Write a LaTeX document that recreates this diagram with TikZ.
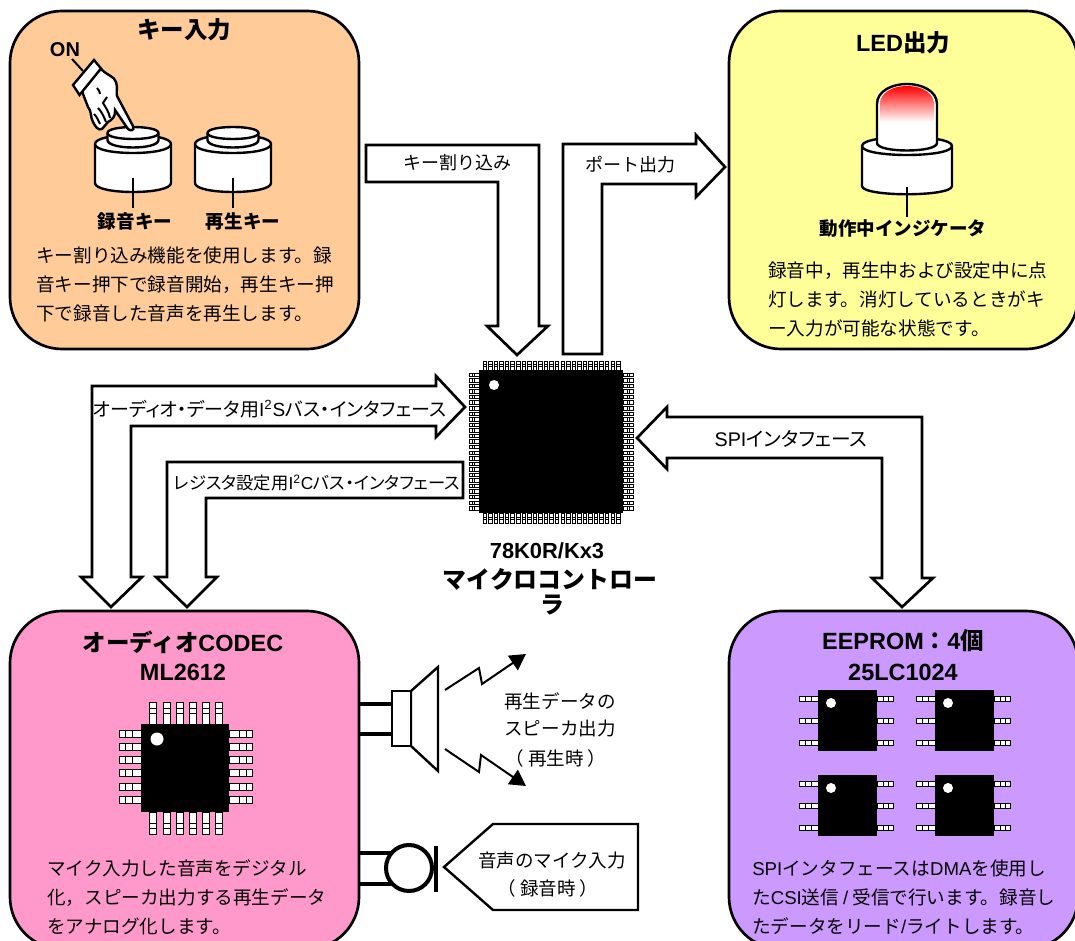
\documentclass[tikz,border=0pt]{standalone}
\usepackage{fontspec}
\setmainfont{Noto Sans CJK JP}
\newfontfamily\propjp{Noto Sans CJK JP}[RawFeature=+palt]
\newfontfamily\lat{Liberation Sans}
\usetikzlibrary{arrows.meta}
\definecolor{keyfill}{HTML}{FFCC99}
\definecolor{ledfill}{HTML}{FFFF99}
\definecolor{codecfill}{HTML}{FF99CC}
\definecolor{romfill}{HTML}{CC99FF}
\newcommand\la[1]{{\lat #1}}
% Sizes are given in output pixels (1 px = 0.75 pt)
\newcommand\pxfont[2]{\fontsize{#1pt}{#2pt}\selectfont}
\tikzset{
  panel/.style={draw=black,line width=2pt,rounded corners=39pt},
  busarrow/.style={draw=black,fill=white,line width=2pt,miter limit=10},
  speaker wire/.style={line width=3.2pt},
  mic wire/.style={line width=2.5pt},
  title text/.style={inner sep=0,font=\pxfont{17.6}{22}\bfseries},
  bold label/.style={inner sep=0,font=\pxfont{13.9}{18}\bfseries},
  body text/.style={inner sep=0,anchor=west,align=left,font=\pxfont{13.95}{21.75}},
  bus text/.style={inner sep=0,font=\pxfont{13.5}{18}},
  sound text/.style={inner sep=0,font=\pxfont{13.9}{18}},
  pin/.style={draw=black,fill=white,line width=0.75pt},
  fine pin/.style={pin/.style={draw=black,fill=white,line width=0.5pt}},
  stub/.style={draw=black,line width=1.5pt},
  part/.style={draw=black,fill=white,line width=1.8pt},
  zigzag/.style={line width=1.5pt,-{Triangle[length=12pt,width=13pt]}}
}
% Horizontal lead: x1, x2, centre y, half height, band x1, band x2
\newcommand\hlead[6]{%
  \draw[pin] (#1,#3-#4) rectangle (#2,#3+#4);
  \draw[pin] (#5,#3-#4) rectangle (#6,#3+#4);}
% Vertical lead: y1, y2, centre x, half width, band y1, band y2
\newcommand\vlead[6]{%
  \draw[pin] (#3-#4,#1) rectangle (#3+#4,#2);
  \draw[pin] (#3-#4,#5) rectangle (#3+#4,#6);}
% Small eight-lead package with its top-left corner at the shift position
\newcommand\soic[2]{%
  \begin{scope}[shift={(#1,#2)}]
    \foreach \yy in {9,31,53}{
      \hlead{-19}{0}{\yy}{2.8}{-13}{-7}
      \hlead{59}{75}{\yy}{2.8}{65}{70}
    }
    \fill[black] (0,0) rectangle (59,61);
    \fill[white] (13,13) circle[radius=5];
  \end{scope}}
% Push button centred on the given x
\newcommand\keycap[1]{%
  \begin{scope}[shift={(#1,0)}]
    \path[part] (-38,144) -- (-38,183) .. controls (-38,195) and (38,195) .. (38,183) -- (38,144) .. controls (38,132) and (-38,132) .. (-38,144) -- cycle;
    \draw[part] (-38,144) .. controls (-38,156) and (38,156) .. (38,144);
    \path[part] (-25.5,133) -- (-25.5,140) .. controls (-25.5,150) and (25.5,150) .. (25.5,140) -- (25.5,133) .. controls (25.5,125) and (-25.5,125) .. (-25.5,133) -- cycle;
    \draw[part] (-25.5,133) .. controls (-25.5,141) and (25.5,141) .. (25.5,133);
    \draw[stub] (0,178) -- (0,208);
  \end{scope}}
\begin{document}
\begin{tikzpicture}[x=0.75pt,y=-0.75pt]
\useasboundingbox (0,0) rectangle (1075,941);
\begin{scope}
\clip (0,0) rectangle (1075,941);

% Panels
\path[panel,fill=keyfill] (10,11) rectangle (359,349);
\path[panel,fill=ledfill] (729,11) rectangle (1078,349);
\path[panel,fill=codecfill] (10,611) rectangle (359,949);
\path[panel,fill=romfill] (729,611) rectangle (1078,949);

% Bus arrows
\draw[busarrow] (366,145) -- (539,145) -- (539,326) -- (548,326) -- (517,355) -- (487,326) -- (498,326) -- (498,182) -- (366,182) -- cycle;
\draw[busarrow] (563,354) -- (563,144) -- (696,144) -- (696,135) -- (725,167) -- (696,197) -- (696,184) -- (602,184) -- (602,354) -- cycle;
\draw[busarrow] (92,577) -- (92,386) -- (436,386) -- (436,376) -- (465,407) -- (436,437) -- (436,426) -- (131,426) -- (131,577) -- (142,577) -- (111,607) -- (81,577) -- cycle;
\draw[busarrow] (167,577) -- (167,462) -- (463,462) -- (463,498) -- (206,498) -- (206,577) -- (217,577) -- (187,607) -- (156,577) -- cycle;
\draw[busarrow] (637,438) -- (667,407) -- (667,417) -- (922,417) -- (922,578) -- (933,578) -- (902,607) -- (872,578) -- (882,578) -- (882,458) -- (667,458) -- (667,469) -- cycle;

% Main controller package
\begin{scope}[fine pin]
\foreach \i in {0,...,24}{
  \pgfmathsetmacro\cc{484.75+5.56*\i}
  \vlead{361}{370}{\cc}{1.75}{364}{366.5}
  \vlead{513}{523}{\cc}{1.75}{517}{519.5}
}
\foreach \i in {0,...,24}{
  \pgfmathsetmacro\cc{374.75+5.56*\i}
  \hlead{469}{479}{\cc}{1.75}{472}{474.5}
  \hlead{623}{633}{\cc}{1.75}{627}{629.5}
}
\end{scope}
\fill[black] (479,370) rectangle (623,513);
\fill[white] (494,385) circle[radius=5];

% Key input panel
\keycap{133}
\keycap{233}
\draw[stub] (72,59) -- (83,71);
\draw[part] (83,94) .. controls (80,88) and (84,82) .. (101,69)
  .. controls (108,76) and (114,76) .. (116,82)
  .. controls (118,88) and (116,92) .. (117,96)
  -- (133,126) .. controls (135,131) and (130,131) .. (128,129)
  -- (115,110) .. controls (116,116) and (112,120) .. (108,122)
  -- (102,129) .. controls (98,131) and (95,126) .. (93,122)
  .. controls (90,116) and (92,112) .. (88,107) -- cycle;
\draw[stub] (97,88) .. controls (99,90) and (100,92) .. (100,94);
\draw[stub] (107,97) -- (103,103) .. controls (106,108) and (109,112) .. (110,118);
\draw[stub] (98,108) .. controls (102,112) and (104,117) .. (106,122);
\draw[stub] (94,114) .. controls (97,117) and (98,120) .. (100,124);
\draw[part] (73,85) -- (94,60) -- (101,68.5) -- (79.5,95) -- cycle;

% Indicator lamp
\path[part] (862,146) -- (862,186) .. controls (862,197) and (952,197) .. (952,186) -- (952,146) .. controls (952,134) and (862,134) .. (862,146) -- cycle;
\draw[part] (862,146) .. controls (862,158) and (952,158) .. (952,146);
\fill[white] (877,143) -- (877,104) .. controls (877,91) and (892,84) .. (907,84) .. controls (922,84) and (937,91) .. (937,104) -- (937,143) .. controls (937,153) and (877,153) .. (877,143) -- cycle;
\begin{scope}
  \clip (880,143) -- (880,104) .. controls (880,93) and (892,86) .. (907,86) .. controls (922,86) and (934,93) .. (934,104) -- (934,143) -- cycle;
  \shade[top color=red,bottom color=white] (875,86) rectangle (939,122);
\end{scope}
\draw[line width=1.8pt] (877,143) -- (877,104) .. controls (877,91) and (892,84) .. (907,84) .. controls (922,84) and (937,91) .. (937,104) -- (937,143) .. controls (937,153) and (877,153) .. (877,143) -- cycle;
\draw[stub] (907,187) -- (907,217);

% Audio codec package
\foreach \cc in {153.3,166.5,179.7,193,206,219.3}{
  \vlead{702}{724}{\cc}{3.5}{708}{713}
  \vlead{812}{834}{\cc}{3.5}{823}{828}
}
\foreach \cc in {734,747.2,760.3,773.4,786.6,799.7}{
  \hlead{119}{141}{\cc}{3.5}{125}{132}
  \hlead{229}{252}{\cc}{3.5}{239}{246}
}
\fill[black] (141,724) rectangle (229,812);
\fill[white] (157,739) circle[radius=6.5];

% EEPROM packages
\soic{818}{690}
\soic{935}{690}
\soic{818}{775}
\soic{935}{775}

% Speaker
\draw[speaker wire] (359,704) -- (392,704) (359,734) -- (392,734);
\draw[line width=1.8pt,fill=white] (411,691) -- (438,667) -- (438,771) -- (411,746) -- cycle;
\draw[line width=2pt,fill=white] (392,691) rectangle (411,746);
\draw[zigzag] (445,690) -- (479,668) -- (482,684) -- (526,654);
\draw[zigzag] (445,749) -- (479,772) -- (481,755) -- (526,786);

% Microphone
\draw[mic wire] (359,853) -- (392,853) (359,884) -- (392,884);
\draw[line width=3pt,fill=white] (409,868) circle[radius=23];
\draw[line width=3pt] (436,846) -- (436,892);
\draw[line width=1.8pt,fill=white] (444,867) -- (493,824) -- (638,824) -- (638,910) -- (493,910) -- cycle;

% Panel titles and labels
\node[title text] (keytitle) at (184,30) {キー入力};
\node[title text] (ledtitle) at (903,43) {\la{LED}出力};
\node[title text] (codectitle) at (183,642) {オーディオ\la{CODEC}};
\node[title text] (codecpart) at (183,672) {\la{ML2612}};
\node[title text] (romtitle) at (903,641) {\la{EEPROM}：\la{4}個};
\node[title text] (rompart) at (903,672) {\la{25LC1024}};
\node[bold label] (onlabel) at (65,50) {\pxfont{15}{18}\bfseries\la{ON}};
\node[bold label] (reckey) at (135,221) {録音キー};
\node[bold label] (playkey) at (243,221) {再生キー};
\node[bold label] (indicator) at (903,229) {動作中インジケータ};
\node[title text] (mcuname) at (547,551) {\pxfont{16.4}{20}\bfseries\la{78K0R/Kx3}};
\node[title text] (mculine1) at (550,579) {\pxfont{17.9}{22}\bfseries マイクロコントロー};
\node[title text] (mculine2) at (552,605) {\pxfont{17.9}{22}\bfseries ラ};

% Panel descriptions
\node[body text] (keybody) at (36,284) {キー割り込み機能を使用します。録\\音キー押下で録音開始，再生キー押\\下で録音した音声を再生します。};
\node[body text] (ledbody) at (768,299) {録音中，再生中および設定中に点\\灯します。消灯しているときがキ\\ー入力が可能な状態です。};
\node[body text] (codecbody) at (47,897) {マイク入力した音声をデジタル\\化，スピーカ出力する再生データ\\をアナログ化します。};
\node[body text] (rombody) at (752,897) {\la{SPI}インタフェースは\la{DMA}を使用し\\た\la{CSI}送信 \la{/} 受信で行います。録音し\\たデータをリード\la{/}ライトします。};

% Bus labels
\node[bus text] (keybus) at (457,163) {キー割り込み};
\node[bus text] (portbus) at (630,165) {ポート出力};
\node[bus text] (i2sbus) at (269.5,409) {\propjp\pxfont{14.25}{18}オーディオ・データ用\la{I\textsuperscript{2}S}バス・インタフェース};
\node[bus text] (i2cbus) at (317,483) {\propjp\pxfont{13}{18}レジスタ設定用\la{I\textsuperscript{2}C}バス・インタフェース};
\node[bus text] (spibus) at (791,439) {\propjp\pxfont{14.8}{18}\la{SPI}インタフェース};

% Sound path labels
\node[sound text] (spk1) at (560,701) {再生データの};
\node[sound text] (spk2) at (560,729) {スピーカ出力};
\node[sound text] (spk3) at (556,758) {（\hspace{3pt}再生時\hspace{3pt}）};
\node[sound text] (mic1) at (552,860) {音声のマイク入力};
\node[sound text] (mic2) at (548,888) {（\hspace{3pt}録音時\hspace{3pt}）};
\end{scope}
\end{tikzpicture}
\end{document}
